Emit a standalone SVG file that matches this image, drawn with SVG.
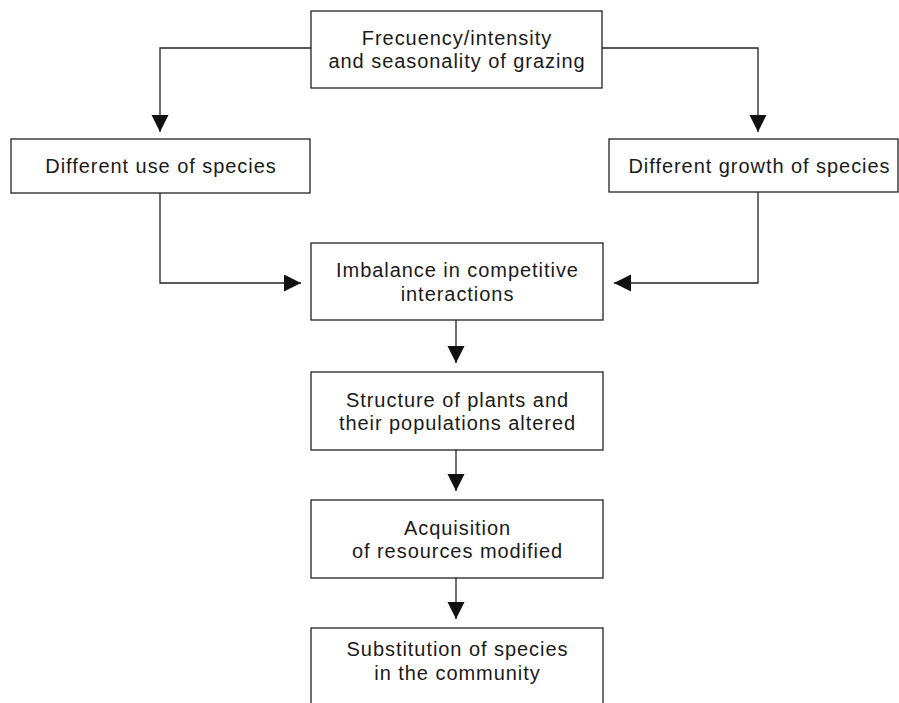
<svg xmlns="http://www.w3.org/2000/svg" width="899" height="703" viewBox="0 0 899 703">
<defs>
<style>
.box{fill:#fff;stroke:#222;stroke-width:1.3}
.t{font-family:"Liberation Sans",Arial,sans-serif;font-size:20px;letter-spacing:0.95px;fill:#1a1a1a;text-anchor:middle}
.c{fill:none;stroke:#222;stroke-width:1.3}
</style>
<marker id="ah" markerUnits="userSpaceOnUse" markerWidth="18" markerHeight="18" refX="17" refY="8.5" orient="auto">
<path d="M0,0 L17,8.5 L0,17 z" fill="#111"/>
</marker>
</defs>
<rect width="899" height="703" fill="#fff"/>
<g id="connectors">
<path class="c" d="M311,48 H160 V132" marker-end="url(#ah)"/>
<path class="c" d="M602,48 H758 V132" marker-end="url(#ah)"/>
<path class="c" d="M160,193 V283 H301" marker-end="url(#ah)"/>
<path class="c" d="M758,192 V283 H614" marker-end="url(#ah)"/>
<path class="c" d="M456,320 V363" marker-end="url(#ah)"/>
<path class="c" d="M456,450 V491" marker-end="url(#ah)"/>
<path class="c" d="M456,578 V619" marker-end="url(#ah)"/>
</g>
<g id="n1">
<rect class="box" x="311" y="11" width="291" height="77"/>
<text class="t" x="457" y="45">Frecuency/intensity</text>
<text class="t" x="457" y="68">and seasonality of grazing</text>
</g>
<g id="n2">
<rect class="box" x="11" y="139" width="299" height="54"/>
<text class="t" x="161" y="173">Different use of species</text>
</g>
<g id="n3">
<rect class="box" x="609" y="139" width="289" height="53"/>
<text class="t" x="759.5" y="173">Different growth of species</text>
</g>
<g id="n4">
<rect class="box" x="311" y="243" width="292" height="77"/>
<text class="t" x="457.5" y="277">Imbalance in competitive</text>
<text class="t" x="457.5" y="301">interactions</text>
</g>
<g id="n5">
<rect class="box" x="311" y="372" width="292" height="78"/>
<text class="t" x="457.5" y="407">Structure of plants and</text>
<text class="t" x="457.5" y="430">their populations altered</text>
</g>
<g id="n6">
<rect class="box" x="311" y="500" width="292" height="78"/>
<text class="t" x="457.5" y="535">Acquisition</text>
<text class="t" x="457.5" y="558">of resources modified</text>
</g>
<g id="n7">
<rect class="box" x="311" y="628" width="292" height="90"/>
<text class="t" x="457.5" y="656">Substitution of species</text>
<text class="t" x="457.5" y="680">in the community</text>
</g>
</svg>
